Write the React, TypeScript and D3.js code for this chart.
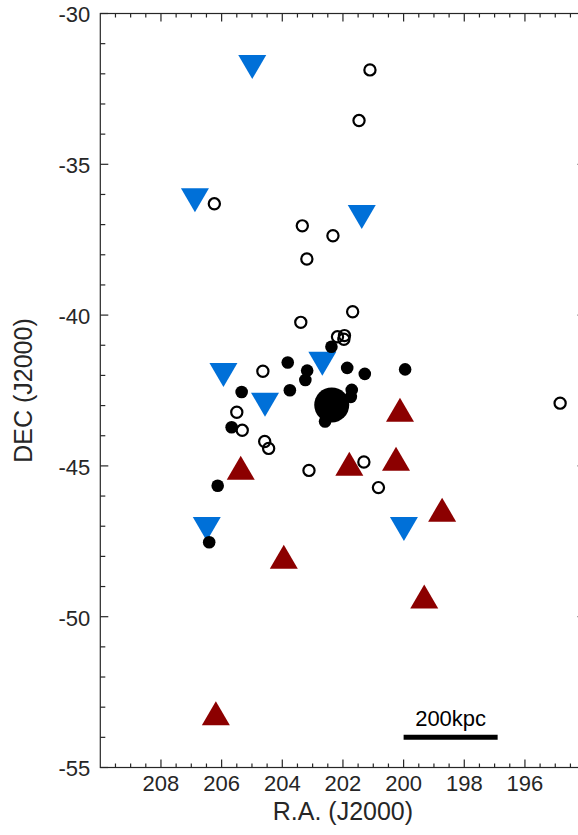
import React from "react";
import * as d3 from "d3";

// [R.A., DEC] pairs
const blueDown = [
  [204.99, -31.77], [206.88, -36.19], [201.38, -36.75], [202.68, -41.61],
  [205.94, -41.99], [204.57, -42.97], [206.49, -47.09], [199.99, -47.09],
];
const redUp = [
  [200.12, -43.14], [205.37, -45.06], [201.79, -44.93], [200.25, -44.76],
  [198.73, -46.45], [203.95, -48.01], [199.32, -49.33], [206.19, -53.2],
];
const openPts = [
  [201.11, -31.87], [201.47, -33.55], [206.24, -36.31], [203.34, -37.04],
  [202.33, -37.37], [203.19, -38.14], [203.39, -40.24], [201.68, -39.89],
  [202.18, -40.72], [201.95, -40.68], [201.97, -40.8], [204.64, -41.86],
  [205.5, -43.22], [205.32, -43.82], [204.58, -44.19], [204.45, -44.42],
  [203.12, -45.15], [201.31, -44.87], [200.83, -45.72], [194.84, -42.92],
];
const filledPts = [
  [202.38, -41.05], [203.82, -41.57], [203.18, -41.84], [203.24, -42.15],
  [201.86, -41.75], [201.28, -41.95], [199.95, -41.8], [205.34, -42.55],
  [203.75, -42.49], [201.71, -42.48], [201.74, -42.71], [202.59, -43.53],
  [205.67, -43.72], [206.13, -45.66], [206.41, -47.53],
];
const bigPt = [202.37, -42.98];
const xTickLabels = [208, 206, 204, 202, 200, 198, 196];
const yTickLabels = [-30, -35, -40, -45, -50, -55];
const scaleBar = { from: 200, to: 196.9, dec: -54, label: "200kpc" };

const W = 578;
const H = 835;
const font = "'Liberation Sans', Arial, Helvetica, sans-serif";
const ink = "#262626";

const App = () => {
  const x = d3.scaleLinear().domain([210, 194]).range([100.3, 585.6]);
  const y = d3.scaleLinear().domain([-30, -55]).range([13.5, 767.5]);
  const [x0, x1] = x.range();
  const [y0, y1] = y.range();

  const xMinor = d3.range(194, 210.01, 0.5).filter(v => v % 2 !== 0);
  const yMinor = d3.range(-55, -29.99, 1).filter(v => v % 5 !== 0);
  const tri = d3.line()([[-14, -12], [14, -12], [0, 12]]) + "Z";
  const triUp = d3.line()([[-14, 12], [14, 12], [0, -12]]) + "Z";

  return (
    <svg width={W} height={H} style={{ position: "absolute", left: 0, top: 0 }}>
      <rect width={W} height={H} fill="white" />
      {/* markers */}
      {redUp.map((d, i) => (
        <path key={"r" + i} d={triUp} transform={`translate(${x(d[0])},${y(d[1])})`} fill="#8c0000" />
      ))}
      {blueDown.map((d, i) => (
        <path key={"b" + i} d={tri} transform={`translate(${x(d[0])},${y(d[1])})`} fill="#0070d8" />
      ))}
      <circle cx={x(bigPt[0])} cy={y(bigPt[1])} r={17.5} fill="black" />
      {filledPts.map((d, i) => (
        <circle key={"f" + i} cx={x(d[0])} cy={y(d[1])} r={6.3} fill="black" />
      ))}
      {openPts.map((d, i) => (
        <circle key={"o" + i} cx={x(d[0])} cy={y(d[1])} r={5.6} fill="none" stroke="black" strokeWidth={2.2} />
      ))}

      {/* scale bar */}
      <line x1={x(scaleBar.from)} x2={x(scaleBar.to)} y1={y(scaleBar.dec)} y2={y(scaleBar.dec)} stroke="black" strokeWidth={5} />
      <text x={(x(scaleBar.from) + x(scaleBar.to)) / 2} y={y(scaleBar.dec) - 11} textAnchor="middle"
        fontFamily={font} fontSize={22} fill="black">{scaleBar.label}</text>

      {/* box */}
      <rect x={x0} y={y0} width={x1 - x0} height={y1 - y0} fill="none" stroke={ink} strokeWidth={1.2} />
      {xTickLabels.map(v => (
        <g key={"xt" + v} stroke={ink} strokeWidth={1.2}>
          <line x1={x(v)} x2={x(v)} y1={y1} y2={y1 - 8} />
          <line x1={x(v)} x2={x(v)} y1={y0} y2={y0 + 8} />
        </g>
      ))}
      {xMinor.map(v => (
        <g key={"xm" + v} stroke={ink} strokeWidth={1.2}>
          <line x1={x(v)} x2={x(v)} y1={y1} y2={y1 - 4} />
          <line x1={x(v)} x2={x(v)} y1={y0} y2={y0 + 4} />
        </g>
      ))}
      {yTickLabels.map(v => (
        <g key={"yt" + v} stroke={ink} strokeWidth={1.2}>
          <line x1={x0} x2={x0 + 8} y1={y(v)} y2={y(v)} />
          <line x1={x1} x2={x1 - 8} y1={y(v)} y2={y(v)} />
        </g>
      ))}
      {yMinor.map(v => (
        <g key={"ym" + v} stroke={ink} strokeWidth={1.2}>
          <line x1={x0} x2={x0 + 5} y1={y(v)} y2={y(v)} />
          <line x1={x1} x2={x1 - 5} y1={y(v)} y2={y(v)} />
        </g>
      ))}

      {/* tick labels */}
      {xTickLabels.map(v => (
        <text key={"xl" + v} x={x(v)} y={y1 + 23} textAnchor="middle" fontFamily={font} fontSize={22} fill={ink}>{v}</text>
      ))}
      {yTickLabels.map(v => (
        <text key={"yl" + v} x={x0 - 10} y={y(v)} dy="0.4em" textAnchor="end" fontFamily={font} fontSize={22} fill={ink}>{v}</text>
      ))}

      {/* axis titles */}
      <text x={(x0 + x1) / 2} y={820} textAnchor="middle" fontFamily={font} fontSize={25} fill={ink}>R.A. (J2000)</text>
      <text transform={`translate(32,${(y0 + y1) / 2}) rotate(-90)`} textAnchor="middle" fontFamily={font} fontSize={25} fill={ink}>DEC (J2000)</text>
    </svg>
  );
};

export default App;
